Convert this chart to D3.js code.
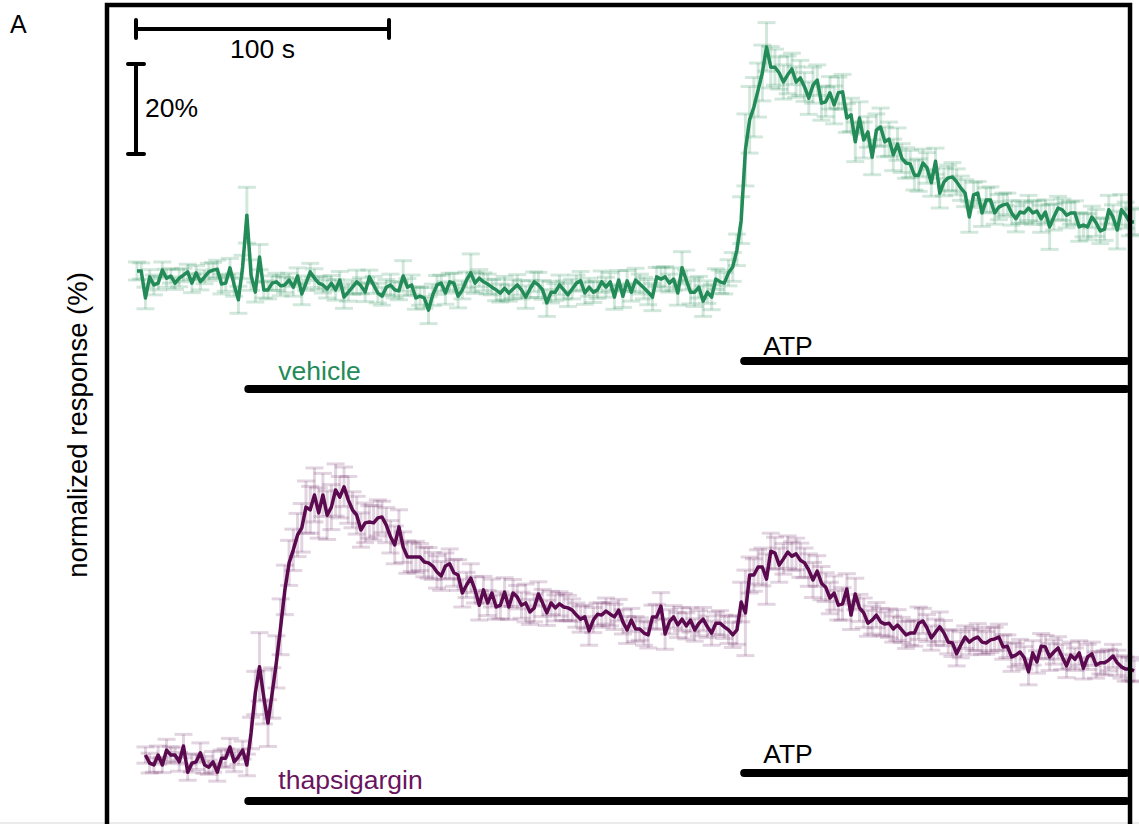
<!DOCTYPE html>
<html>
<head>
<meta charset="utf-8">
<script src="https://cdn.jsdelivr.net/npm/d3@7"></script>
<style>
  html, body { margin: 0; padding: 0; background: #fff; }
  svg { display: block; font-family: "Liberation Sans", Arial, sans-serif; }
</style>
</head>
<body>
<div id="chartSection"></div>
<script>
// sampling (s) and stimulus timing (s)
var dt = 1.67;
var vehicleStart = 0;
var thapStart = 3.34;
var drugOn = 44;
var atpOn = 240;
var recEnd = 392.5;

// vehicle trace, normalized response (%)
var vehicleMean = [
  102.0, 102.0, 96.0, 100.7, 98.9, 99.3, 102.2, 100.4, 100.9, 99.3,
  100.4, 101.1, 101.8, 99.3, 101.6, 99.6, 100.7, 101.8, 102.2, 102.4,
  99.1, 99.3, 102.7, 98.9, 95.6, 102.9, 114.4, 101.1, 97.3, 105.1,
  97.8, 97.8, 99.3, 99.6, 98.7, 98.9, 100.0, 98.4, 100.9, 96.9,
  99.3, 101.8, 100.4, 99.3, 98.9, 98.0, 99.3, 97.8, 100.0, 96.2,
  97.3, 98.4, 99.6, 98.7, 97.3, 100.7, 98.9, 97.1, 96.4, 98.4,
  98.9, 97.8, 97.6, 100.9, 98.4, 98.9, 96.0, 96.4, 96.0, 93.3,
  96.7,
  98.9, 99.3, 97.1, 99.6, 99.3, 96.4, 97.8, 100.0, 101.6, 99.3,
  100.4, 99.6, 99.1, 98.4, 97.8, 97.1, 98.2, 97.1, 98.0, 98.9,
  97.8, 96.2, 98.0, 99.6, 98.9, 97.8, 94.9, 97.3, 97.3, 98.9,
  97.8, 96.7, 98.0, 99.3, 99.8, 97.1, 98.4, 97.3, 97.8, 99.6,
  98.4, 99.6, 96.2, 100.0, 96.4, 99.8, 97.3, 100.0, 99.1, 98.2,
  97.3, 96.2, 100.7, 100.2, 100.7, 99.3, 100.2, 97.1, 102.7, 100.0,
  97.3, 97.3, 98.4, 95.3, 97.3, 96.2, 100.2, 99.6, 99.3, 101.6,
  102.9,
  106.7, 113.3, 128.9, 135.6, 138.4, 142.2, 146.0, 151.8, 147.3, 147.3,
  146.0, 144.0, 145.6, 146.9, 144.0, 144.9, 142.9, 140.4, 143.3, 144.4,
  139.3, 139.6, 141.6, 138.9, 141.6, 141.8, 136.0, 136.7, 130.7, 136.0,
  131.1, 132.9, 127.3, 133.3, 134.0, 130.7, 131.3, 127.8, 130.2, 127.1,
  126.0, 125.8, 123.3, 123.3, 126.0, 124.9, 121.6, 126.4, 119.3, 121.8,
  122.7, 122.9, 121.8, 120.4, 119.3, 114.0, 118.9, 119.3, 114.9, 117.8,
  117.8, 114.9, 116.2, 116.7, 116.9, 114.9, 113.6, 115.1, 114.9, 116.0,
  114.9, 115.3, 113.6, 115.1, 111.8, 114.0, 116.0, 115.6, 114.4, 114.9,
  114.9, 111.8, 112.2, 111.8, 114.0, 112.7, 110.9, 111.3, 115.6, 114.0,
  111.1, 115.6, 114.4, 112.9, 112.9
];
var vehicleErr = [
  2.0, 1.8, 2.4, 1.6, 2.2, 1.5, 1.8, 2.0, 1.6, 1.4,
  1.9, 1.5, 1.7, 2.1, 1.6, 1.8, 1.5, 1.9, 1.7, 2.0,
  2.2, 1.8, 2.1, 2.5, 3.0, 2.6, 6.2, 3.4, 2.2, 2.8,
  1.8, 2.0, 1.6, 1.9, 2.2, 1.7, 1.5, 2.0, 1.8, 2.4,
  1.6, 1.9, 2.1, 1.5, 1.8, 2.0, 1.7, 2.3, 1.9, 2.5,
  2.0, 1.6, 2.6, 1.8, 2.1, 1.5, 1.9, 2.2, 2.0, 1.7,
  2.4, 1.8, 2.0, 3.4, 1.9, 2.2, 2.5, 2.0, 2.3, 3.0,
  2.4,
  2.1, 1.8, 2.5, 1.9, 2.2, 2.6, 2.0, 1.8, 4.2, 2.3,
  1.9, 2.0, 2.2, 1.7, 2.4, 2.0, 2.6, 1.8, 2.1, 2.3,
  2.0, 2.5, 1.9, 2.2, 2.8, 2.1, 3.0, 2.4, 1.9, 2.2,
  2.0, 2.6, 2.2, 1.8, 2.1, 2.5, 2.0, 2.3, 1.9, 2.4,
  2.2, 2.0, 2.7, 2.1, 2.5, 2.3, 2.0, 2.6, 2.2, 2.4,
  2.8, 3.0, 2.1, 2.6, 2.3, 2.0, 2.5, 2.7, 3.6, 2.2,
  2.6, 3.2, 2.4, 3.4, 2.5, 2.8, 2.3, 2.6, 2.4, 2.9,
  3.2,
  3.5, 5.2, 8.0, 7.4, 6.6, 6.0, 6.2, 5.4, 4.6, 4.0,
  3.6, 3.8, 4.2, 3.5, 3.4, 3.9, 3.2, 3.6, 4.0, 3.4,
  3.8, 3.3, 3.6, 4.2, 3.5, 3.9, 3.2, 3.7, 4.4, 3.6,
  4.0, 3.4, 3.9, 3.6, 4.2, 3.3, 3.8, 3.5, 3.6, 3.2,
  3.4, 3.0, 3.3, 3.6, 3.1, 3.4, 3.0, 2.9, 3.3, 3.1,
  2.8, 3.2, 2.9, 2.7, 3.0, 3.4, 2.8, 2.6, 3.0, 2.7,
  2.9, 2.5, 2.8, 2.6, 2.4, 2.7, 2.9, 2.5, 2.3, 2.8,
  2.6, 2.4, 3.0, 2.7, 5.0, 2.9, 2.6, 2.4, 2.8, 2.5,
  2.7, 3.2, 2.6, 2.9, 2.4, 3.0, 2.8, 2.5, 3.2, 2.7,
  4.2, 3.4, 2.9, 3.1, 2.8
];

// thapsigargin trace, normalized response (%)
var thapMean = [
  101.1, 99.3, 98.9, 101.1, 98.9, 102.2, 101.1, 101.1, 99.6, 103.1,
  97.3, 99.3, 99.6, 101.6, 98.9, 98.4, 99.6, 97.3, 100.4, 100.4,
  102.9, 99.6, 100.7, 102.2, 98.9, 106.0, 114.9, 120.7, 114.0, 108.2,
  114.9, 121.8, 129.6, 137.8, 143.8, 146.7, 150.0, 151.6, 156.2, 155.6,
  158.9, 154.9, 158.9, 154.4, 156.2, 160.0, 158.4, 160.7, 157.8, 155.6,
  154.4, 151.1, 152.7, 152.9, 152.7, 153.8, 154.0, 152.2, 149.6, 147.8,
  151.8, 147.3, 145.1, 145.1, 145.1, 145.1, 144.0,
  143.8, 143.1, 141.8, 140.9, 143.1, 143.6, 141.6, 141.1, 137.1, 138.9,
  140.4, 137.8, 134.4, 137.8, 134.9, 137.1, 134.0, 134.4, 137.3, 134.0,
  137.1, 136.2, 134.4, 134.9, 132.9, 133.8, 136.9, 134.9, 132.7, 134.9,
  133.8, 134.7, 134.0, 133.8, 133.3, 132.2, 131.3, 131.8, 128.7, 131.1,
  132.4, 132.2, 133.1, 132.4, 131.8, 133.3, 130.7, 128.9, 131.1, 129.1,
  129.1, 128.2, 127.8, 131.8, 131.8, 134.2, 128.0, 130.7, 131.8, 130.0,
  131.3, 129.8, 131.1, 128.9, 130.4, 131.3, 129.6, 128.2, 130.4, 130.4,
  129.6, 128.9, 127.8,
  128.9, 135.1, 132.7, 141.1, 141.1, 142.9, 142.9, 140.2, 146.4, 146.0,
  143.3, 144.7, 146.2, 145.3, 145.8, 144.4, 143.8, 142.2, 140.0, 142.0,
  139.3, 138.4, 136.0, 137.1, 134.4, 134.7, 138.0, 132.2, 136.9, 133.8,
  132.7, 130.4, 131.1, 132.2, 130.7, 130.2, 130.4, 129.1, 130.0, 128.9,
  127.8, 128.2, 128.2, 130.4, 130.9, 129.3, 127.1, 128.4, 129.6, 128.2,
  126.2, 126.0, 123.6, 125.6, 127.3, 126.2, 126.9, 127.3, 126.2, 126.0,
  126.7, 126.9, 127.3, 125.1, 125.3, 122.9, 123.3, 124.0, 122.7, 119.6,
  123.8, 121.8, 125.3, 125.1, 122.9, 124.0, 124.9, 122.9, 120.9, 123.3,
  122.4, 123.8, 120.4, 122.9, 123.6, 121.1, 121.6, 121.6, 122.2, 123.1,
  121.6, 120.7, 120.2, 120.2, 119.8
];
var thapErr = [
  1.8, 2.2, 1.6, 2.0, 1.7, 2.4, 1.9, 1.6, 2.1, 2.6,
  1.8, 2.0, 1.7, 2.2, 1.9, 1.6, 2.3, 2.0, 1.8, 2.1,
  1.9, 2.2, 1.7, 2.0, 2.4, 3.5, 4.8, 7.6, 6.0, 5.2,
  5.6, 5.8, 6.2, 5.5, 5.0, 4.6, 4.8, 5.4, 5.8, 5.2,
  6.0, 5.6, 4.8, 5.4, 5.0, 5.8, 4.6, 4.4, 5.2, 4.0,
  4.2, 3.8, 4.4, 3.6, 3.8, 4.0, 3.5, 3.9, 3.6, 4.2,
  3.8, 3.4, 3.6, 3.2, 3.5, 3.0, 3.3,
  3.4, 3.0, 3.6, 3.2, 2.9, 3.3, 3.0, 3.4, 3.1, 2.8,
  3.2, 2.9, 3.3, 3.0, 2.8, 3.1, 2.7, 3.0, 3.2, 2.8,
  3.0, 2.6, 2.9, 4.2, 2.8, 3.1, 2.7, 3.0, 2.8, 2.6,
  2.9, 2.7, 3.0, 2.8, 2.5, 2.7, 2.9, 2.6, 3.2, 2.8,
  2.5, 2.7, 2.9, 2.6, 2.8, 2.4, 2.7, 3.0, 2.6, 2.8,
  2.5, 2.7, 2.9, 2.6, 2.8, 3.0, 3.4, 2.7, 2.5, 2.8,
  2.6, 2.9, 2.7, 2.5, 2.8, 2.6, 2.4, 2.7, 2.5, 2.8,
  2.6, 3.0, 2.8,
  3.2, 4.4, 9.5, 4.0, 3.6, 3.8, 4.2, 5.6, 4.0, 3.5,
  3.8, 3.4, 3.6, 3.2, 3.5, 3.8, 3.3, 3.6, 3.9, 3.4,
  3.7, 3.2, 3.5, 3.8, 3.3, 3.6, 3.4, 3.2, 3.5, 3.0,
  3.3, 2.9, 3.1, 2.8, 3.0, 2.7, 3.2, 2.9, 3.4, 2.8,
  3.0, 2.7, 2.9, 3.6, 2.8, 3.0, 2.7, 2.9, 3.3, 2.8,
  2.6, 3.0, 2.7, 2.9, 2.5, 2.8, 2.6, 3.0, 2.7, 2.5,
  2.8, 2.6, 2.9, 2.7, 2.5, 3.2, 2.6, 2.8, 2.5, 2.9,
  2.7, 2.5, 2.8, 2.6, 3.0, 2.7, 2.5, 2.8, 2.6, 2.9,
  2.5, 2.7, 2.4, 2.8, 2.6, 2.9, 2.5, 2.7, 2.4, 2.6,
  2.8, 2.5, 2.7, 2.6, 2.4
];

var width = 1139;
var height = 824;

var svg = d3.select("#chartSection").append("svg")
    .attr("width", width)
    .attr("height", height);

// 100 s = 253 px, 20 % = 90 px
var xScale = d3.scaleLinear().domain([0, 400]).range([137, 137 + 4 * 253]);
var yTop = d3.scaleLinear().domain([100, 120]).range([280, 190]);
var yBottom = d3.scaleLinear().domain([100, 120]).range([760, 670]);

function toPoints(mean, err, t0) {
    return mean.map(function(v, i) {
        return { t: t0 + i * dt, v: v, e: err[i] };
    });
}

function drawTrace(points, y, lineColor, barColor) {
    var g = svg.append("g");
    var bars = g.append("g")
        .attr("stroke", barColor)
        .attr("stroke-width", 3)
        .attr("fill", "none");

    var b = bars.selectAll("g").data(points).enter().append("g");
    b.append("line")
        .attr("x1", d => xScale(d.t)).attr("x2", d => xScale(d.t))
        .attr("y1", d => y(d.v - d.e)).attr("y2", d => y(d.v + d.e));
    b.append("line")
        .attr("x1", d => xScale(d.t) - 9).attr("x2", d => xScale(d.t) + 9)
        .attr("y1", d => y(d.v + d.e)).attr("y2", d => y(d.v + d.e));
    b.append("line")
        .attr("x1", d => xScale(d.t) - 9).attr("x2", d => xScale(d.t) + 9)
        .attr("y1", d => y(d.v - d.e)).attr("y2", d => y(d.v - d.e));

    var line = d3.line()
        .x(d => xScale(d.t))
        .y(d => y(d.v));

    g.append("path")
        .datum(points)
        .attr("d", line)
        .attr("fill", "none")
        .attr("stroke", lineColor)
        .attr("stroke-width", 3.5)
        .attr("stroke-linejoin", "round");
}

drawTrace(toPoints(vehicleMean, vehicleErr, vehicleStart), yTop, "#238b57", "rgba(35,139,87,0.2)");
drawTrace(toPoints(thapMean, thapErr, thapStart), yBottom, "#5c0a4f", "rgba(110,40,100,0.2)");

// stimulus bars, running into the right edge of the frame
function stimBar(t0, yPos) {
    svg.append("line")
        .attr("x1", xScale(t0)).attr("x2", xScale(recEnd) - 4)
        .attr("y1", yPos).attr("y2", yPos)
        .attr("stroke", "#000")
        .attr("stroke-width", 8)
        .attr("stroke-linecap", "round");
}
stimBar(atpOn, 361);
stimBar(drugOn, 389);
stimBar(atpOn, 773);
stimBar(drugOn, 801);

function label(txt, x, y, color) {
    svg.append("text")
        .attr("x", x).attr("y", y)
        .attr("fill", color)
        .attr("font-size", "26.5px")
        .text(txt);
}
label("ATP", xScale(atpOn) + 19, 355, "#000");
label("vehicle", xScale(drugOn) + 30, 380, "#238b57");
label("ATP", xScale(atpOn) + 19, 763, "#000");
label("thapsigargin", xScale(drugOn) + 30, 789, "#6a1460");

// frame
svg.append("line")
    .attr("x1", 0).attr("x2", width)
    .attr("y1", 823).attr("y2", 823)
    .attr("stroke", "#e4e4e4").attr("stroke-width", 1.5);
svg.append("path")
    .attr("d", "M107,830V5H" + xScale(recEnd) + "V830")
    .attr("fill", "none")
    .attr("stroke", "#000")
    .attr("stroke-width", 4.5);

// scale bars
var sb = svg.append("g").attr("stroke", "#000").attr("stroke-width", 4).attr("stroke-linecap", "round");
var sx0 = xScale(0) - 1;
var sx1 = xScale(100) - 1;
sb.append("line").attr("x1", sx0).attr("x2", sx1).attr("y1", 29).attr("y2", 29);
sb.append("line").attr("x1", sx0).attr("x2", sx0).attr("y1", 20).attr("y2", 38);
sb.append("line").attr("x1", sx1).attr("x2", sx1).attr("y1", 20).attr("y2", 38);
sb.append("line").attr("x1", sx0).attr("x2", sx0).attr("y1", yTop(128)).attr("y2", yTop(148));
sb.append("line").attr("x1", sx0 - 8).attr("x2", sx0 + 8).attr("y1", yTop(128)).attr("y2", yTop(128));
sb.append("line").attr("x1", sx0 - 8).attr("x2", sx0 + 8).attr("y1", yTop(148)).attr("y2", yTop(148));

svg.append("text")
    .attr("x", (sx0 + sx1) / 2).attr("y", 58)
    .attr("text-anchor", "middle")
    .attr("font-size", "26.5px")
    .text("100 s");
svg.append("text")
    .attr("x", sx0 + 9).attr("y", 117)
    .attr("font-size", "26.5px")
    .text("20%");

svg.append("text")
    .attr("x", 10).attr("y", 33)
    .attr("font-size", "25px")
    .text("A");

svg.append("text")
    .attr("transform", "translate(87,425) rotate(-90)")
    .attr("text-anchor", "middle")
    .attr("font-size", "27.5px")
    .text("normalized response (%)");
</script>
</body>
</html>
